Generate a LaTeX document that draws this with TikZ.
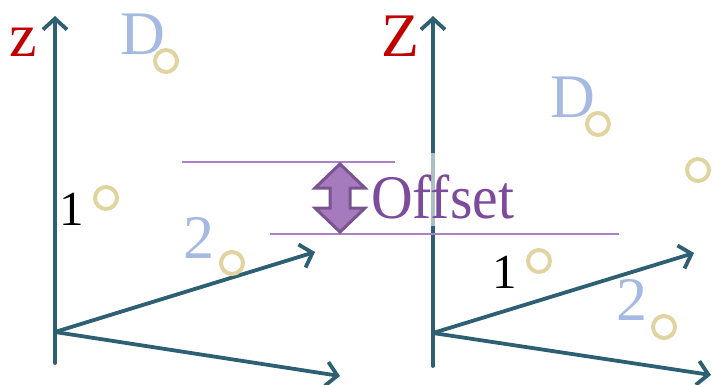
\documentclass[tikz,border=0pt]{standalone}
\usepackage{fontspec}
\setmainfont{Liberation Serif}
\usetikzlibrary{arrows.meta}
\definecolor{axiscol}{RGB}{46,96,115}
\definecolor{zred}{RGB}{192,0,0}
\definecolor{lblue}{RGB}{166,185,227}
\definecolor{tancol}{RGB}{226,212,160}
\definecolor{lpurple}{RGB}{165,123,190}
\definecolor{dpurple}{RGB}{122,84,144}
\definecolor{tpurple}{RGB}{125,75,155}
\definecolor{linepurple}{RGB}{170,130,200}
\begin{document}
\begin{tikzpicture}[x=1pt,y=-1pt,
  axisline/.style={draw=axiscol,line width=3.8pt,line cap=round,
    -{Straight Barb[length=11pt,width=24pt,line width=3.8pt]}},
  lbl/.style={font=\fontsize{62}{62}\selectfont,inner sep=0pt,anchor=base west},
  ring/.style={circle,draw=tancol,line width=4pt,minimum size=22pt,inner sep=0pt},
  offline/.style={draw=linepurple,line width=1.6pt}]
\useasboundingbox (0,0) rectangle (715,385);
% left axes
\coordinate (lb) at (55,363);
\coordinate (lz) at (55,16);
\coordinate (lo) at (55,332);
\coordinate (lu) at (315,252);
\coordinate (ld) at (340,376);
\draw[axisline] (lb) -- (lz);
\draw[axisline] (lo) -- (lu);
\draw[axisline] (lo) -- (ld);
% right axes
\coordinate (rb) at (433,366);
\coordinate (rz) at (433,16);
\coordinate (ro) at (433,333);
\coordinate (ru) at (694,253);
\coordinate (rd) at (711,375);
\draw[axisline] (rb) -- (rz);
\draw[axisline] (ro) -- (ru);
\draw[axisline] (ro) -- (rd);
% veil behind the Offset text
\fill[white,opacity=0.6] (368,153) rectangle (520,226);
% offset lines
\coordinate (t1) at (182,162);
\coordinate (t2) at (395,162);
\coordinate (b1) at (270,234);
\coordinate (b2) at (619,234);
\draw[offline] (t1) -- (t2);
\draw[offline] (b1) -- (b2);
% double arrow
\draw[fill=lpurple,draw=dpurple,line width=3pt,line join=miter]
  (340,164) -- (365,188) -- (350,188) -- (350,208) -- (365,208) -- (340,232)
  -- (315,208) -- (330,208) -- (330,188) -- (315,188) -- cycle;
\node[lbl,text=tpurple] (off) at (371,218) {\scalebox{0.93}[1]{Offset}};
% left labels
\node[lbl,text=zred] (lzl) at (9,57) {z};
\node[lbl,text=lblue] (ldl) at (120,55) {D};
\node[lbl,font=\fontsize{49}{49}\selectfont] (l1) at (59,225) {1};
\node[lbl,text=lblue] (l2) at (183,258) {2};
\node[ring] (lcd) at (166,61) {};
\node[ring] (lc1) at (106,198) {};
\node[ring] (lc2) at (232,263) {};
% right labels
\node[lbl,text=zred] (rzl) at (381,57) {Z};
\node[lbl,text=lblue] (rdl) at (550,118) {D};
\node[lbl,font=\fontsize{49}{49}\selectfont] (r1) at (492,288) {1};
\node[lbl,text=lblue] (r2) at (616,320) {2};
\node[ring] (rcd) at (598,124) {};
\node[ring] (rcx) at (698,170) {};
\node[ring] (rc1) at (539,261) {};
\node[ring] (rc2) at (664,327) {};
\end{tikzpicture}
\end{document}
